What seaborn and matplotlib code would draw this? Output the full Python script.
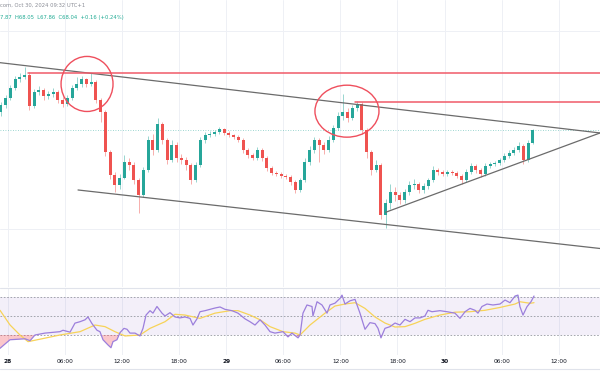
import numpy as np
import pandas as pd
import matplotlib
matplotlib.use("Agg")
import matplotlib.pyplot as plt
from matplotlib.patches import Ellipse
from matplotlib.lines import Line2D
import seaborn as sns

# ---------------- data ----------------
# 30-minute bars, x in trading hours from Oct 28 00:00 (session break removed)
first_bar_start = -1.0
bar_len = 0.5
first_open = 68.18
close = [68.25, 68.32, 68.42, 68.51, 68.54, 68.56, 68.24, 68.38, 68.40, 68.34,
         68.36, 68.38, 68.30, 68.26, 68.32, 68.42, 68.46, 68.51, 68.46, 68.48,
         68.30, 68.18, 67.78, 67.55, 67.44, 67.52, 67.68, 67.65, 67.49, 67.34,
         67.60, 67.90, 67.80, 68.06, 67.90, 67.70, 67.85, 67.72, 67.70, 67.65,
         67.49, 67.65, 67.90, 67.95, 67.96, 67.98, 68.01, 67.97, 67.95, 67.93,
         67.90, 67.80, 67.75, 67.72, 67.80, 67.72, 67.62, 67.57, 67.56, 67.54,
         67.53, 67.47, 67.39, 67.49, 67.68, 67.80, 67.90, 67.85, 67.80, 67.90,
         68.02, 68.14, 68.18, 68.12, 68.22, 68.26, 68.00, 67.78, 67.60, 67.65,
         67.14, 67.26, 67.37, 67.34, 67.29, 67.37, 67.44, 67.45, 67.39, 67.43,
         67.49, 67.60, 67.58, 67.56, 67.58, 67.57, 67.54, 67.49, 67.58, 67.64,
         67.60, 67.56, 67.64, 67.66, 67.67, 67.70, 67.74, 67.77, 67.80, 67.84,
         67.70, 67.87, 68.00]
high = [68.28, 68.35, 68.45, 68.55, 68.58, 68.64, 68.59, 68.41, 68.44, 68.42,
        68.39, 68.42, 68.40, 68.33, 68.35, 68.45, 68.54, 68.55, 68.53, 68.58,
        68.50, 68.32, 68.20, 67.80, 67.58, 67.56, 67.75, 67.72, 67.68, 67.52,
        67.63, 67.94, 67.96, 68.12, 68.08, 67.92, 67.90, 67.88, 67.76, 67.73,
        67.67, 67.68, 67.93, 67.98, 67.99, 68.00, 68.03, 68.02, 67.99, 67.96,
        67.95, 67.92, 67.82, 67.77, 67.83, 67.82, 67.74, 67.64, 67.59, 67.58,
        67.56, 67.55, 67.49, 67.52, 67.72, 67.84, 67.93, 67.92, 67.88, 67.94,
        68.05, 68.18, 68.36, 68.22, 68.25, 68.29, 68.28, 68.02, 67.80, 67.70,
        67.67, 67.30, 67.45, 67.42, 67.37, 67.40, 67.48, 67.50, 67.47, 67.46,
        67.52, 67.64, 67.62, 67.60, 67.60, 67.60, 67.59, 67.56, 67.61, 67.67,
        67.66, 67.62, 67.67, 67.68, 67.69, 67.72, 67.77, 67.80, 67.83, 67.88,
        67.86, 67.90, 68.01]
low = [68.14, 68.22, 68.30, 68.40, 68.48, 68.52, 68.20, 68.22, 68.35, 68.30,
       68.31, 68.33, 68.27, 68.23, 68.24, 68.30, 68.40, 68.43, 68.43, 68.44,
       68.27, 68.08, 67.74, 67.50, 67.37, 67.40, 67.50, 67.60, 67.45, 67.16,
       67.32, 67.58, 67.75, 67.78, 67.86, 67.66, 67.68, 67.68, 67.66, 67.60,
       67.45, 67.47, 67.63, 67.87, 67.93, 67.94, 67.96, 67.95, 67.93, 67.91,
       67.88, 67.77, 67.72, 67.70, 67.70, 67.69, 67.59, 67.55, 67.54, 67.52,
       67.50, 67.44, 67.36, 67.37, 67.47, 67.65, 67.77, 67.68, 67.76, 67.78,
       67.88, 68.00, 68.10, 68.08, 68.10, 68.19, 67.96, 67.72, 67.55, 67.58,
       67.10, 67.01, 67.20, 67.28, 67.25, 67.26, 67.34, 67.40, 67.36, 67.36,
       67.40, 67.47, 67.55, 67.54, 67.54, 67.55, 67.52, 67.45, 67.47, 67.56,
       67.57, 67.53, 67.54, 67.62, 67.64, 67.65, 67.68, 67.72, 67.75, 67.78,
       67.66, 67.68, 67.86]

rsi_hours = [-0.84, 0.21, 1.79, 2.32, 2.84, 3.89, 4.42, 5.47, 5.79, 6.53,
             7.05, 7.58, 8.11, 8.42, 8.84, 9.37, 9.68, 10.0, 10.53, 10.84,
             11.05, 11.47, 11.79, 12.21, 12.53, 12.84, 13.37, 13.89, 14.21, 14.53,
             14.95, 15.26, 15.68, 16.21, 16.53, 17.05, 17.58, 18.1, 18.63, 19.16,
             19.47, 19.89, 20.21, 20.74, 21.79, 22.32, 22.84, 23.58, 24.21, 24.95,
             25.47, 26.0, 26.53, 27.05, 27.58, 28.1, 28.95, 29.47, 29.89, 30.53,
             30.74, 31.05, 31.47, 32.0, 32.1, 32.53, 33.05, 33.58, 33.89, 34.42,
             34.95, 35.16, 35.47, 36.0, 36.53, 36.74, 37.05, 37.37, 37.58, 38.1,
             38.63, 38.95, 39.26, 39.68, 40.21, 40.74, 41.26, 41.79, 42.32, 42.84,
             43.37, 43.89, 44.21, 44.63, 45.47, 46.21, 47.05, 47.58, 48.11, 48.63,
             49.16, 49.47, 49.89, 50.42, 51.05, 51.79, 52.32, 52.84, 53.37, 53.68,
             53.89, 54.21, 54.63, 55.05, 55.37]
rsi_values = [16, 25, 26, 24, 30, 32, 32.5, 33.5, 35, 33,
              42.5, 44, 46, 49, 42, 35, 33.5, 25, 19.5, 16.6,
              23, 25, 32.5, 37, 36, 32, 32, 29, 37, 51,
              55.6, 53, 60, 53, 50, 53.5, 49, 48, 49, 47.5,
              40.5, 47, 54.5, 55.6, 58.4, 59.5, 57, 55.6, 53, 47,
              44, 40.5, 46, 40.5, 33.5, 32, 33.5, 28, 32, 27,
              30, 53, 61.6, 60, 50, 65, 61.6, 53, 61.6, 63.5,
              68.6, 72, 62.6, 66, 67.5, 61.6, 53, 42.6, 36, 43,
              42, 37, 27, 37, 38.8, 42.6, 40.5, 46.5, 44, 48,
              48, 50, 56, 54.5, 55.6, 54.5, 53, 47.5, 54.5, 58,
              56, 53, 60, 62.6, 61.6, 62.6, 66.8, 64, 71, 72,
              59.8, 51, 59.8, 65, 71]
ma_hours = [-0.84, 0.21, 1.26, 2.11, 3.37, 5.47, 7.58, 9.16, 10.21, 11.26,
            12.32, 13.89, 14.95, 16.53, 17.58, 18.63, 20.21, 21.79, 23.37, 24.21,
            25.47, 26.53, 27.58, 28.95, 30.21, 30.74, 31.79, 33.37, 34.42, 35.47,
            36.53, 37.58, 38.63, 39.68, 40.74, 41.79, 42.84, 43.89, 45.47, 47.05,
            48.63, 50.21, 51.79, 53.37, 53.89, 54.95, 55.37]
ma_values = [56, 40.6, 30, 23, 25.6, 30, 33.5, 40.5, 38.8, 33.5,
             29, 30, 37, 44, 51.8, 51, 47.5, 53, 55.6, 55.6,
             51, 46, 38.8, 33.5, 32, 30, 40.5, 53, 60.5, 62.6,
             64, 58, 49, 42.6, 38.4, 38.8, 42.3, 46.5, 51, 54,
             54.5, 56, 59, 62.6, 65, 63.4, 64]

tick_hours = [0, 6, 12, 18, 23, 29, 35, 41, 46, 52, 58]
tick_labels = ['28', '06:00', '12:00', '18:00', '29', '06:00', '12:00', '18:00', '30', '06:00', '12:00']
day_labels = ['28', '29', '30']

# drawings (time in trading hours, price)
upper_line_t, upper_line_p = [-0.84, 62.32], [68.68, 67.97]
lower_line_t, lower_line_p = [7.37, 62.32], [67.394, 66.803]
rising_line_t, rising_line_p = [39.76, 62.32], [67.169, 67.97]
res1_t, res1_p = [2.1, 62.32], [68.58, 68.58]
res2_t, res2_p = [36.5, 62.32], [68.28, 68.28]
circle1 = (8.32, 68.465, 5.47, 0.556)
circle2 = (35.68, 68.19, 6.74, 0.525)

header1 = "com, Oct 30, 2024 09:32 UTC+1"
header2 = "7.87  H68.05  L67.86  C68.04  +0.16 (+0.24%)"

# ---------------- figure ----------------
sns.set_theme(style="white")
plt.rcParams['font.family'] = ['DejaVu Sans']

W, H = 600, 385
fig = plt.figure(figsize=(6.0, 3.85), dpi=100)
fig.patch.set_facecolor('white')

XLIM = (-0.842, 62.316)
ax = fig.add_axes([0, 1 - 287 / H, 1, 287 / H])
ax2 = fig.add_axes([0, 1 - 355 / H, 1, 67 / H])
for a in (ax, ax2):
    a.set_xlim(*XLIM)
    for s in a.spines.values():
        s.set_visible(False)
    a.set_facecolor('white')
ax.set_ylim(66.414, 69.313)
ax2.set_ylim(8.95, 79.47)

GREEN = '#26a69a'
RED = '#ef5350'
grid_c = '#eef0f5'

# grid
for a in (ax, ax2):
    for th in tick_hours:
        a.axvline(th, color=grid_c, lw=0.7, zorder=0)
for gp in (67, 69):
    ax.axhline(gp, color=grid_c, lw=0.7, zorder=0)

# candles
close_a = np.array(close)
open_a = np.concatenate([[first_open], close_a[:-1]])
high_a = np.array(high)
low_a = np.array(low)
t_mid = first_bar_start + bar_len * np.arange(len(close_a)) + bar_len / 2
cols = np.where(close_a >= open_a, GREEN, RED)
ax.vlines(t_mid, low_a, high_a, colors=cols, lw=0.6, alpha=0.55, zorder=2)
body_lo = np.minimum(open_a, close_a)
body_h = np.maximum(np.abs(close_a - open_a), 0.008)
ax.bar(t_mid, body_h, bottom=body_lo, width=0.3, color=cols, linewidth=0, zorder=3)

# last price line (dotted)
ax.axhline(close_a[-1], color=GREEN, lw=0.6, ls=(0, (1, 2)), alpha=0.6, zorder=1)

# trend lines
line_c = '#6b6b6b'
for tt, pp in ((upper_line_t, upper_line_p), (lower_line_t, lower_line_p), (rising_line_t, rising_line_p)):
    sns.lineplot(x=tt, y=pp, ax=ax, color=line_c, lw=0.9, zorder=4)
for tt, pp in ((res1_t, res1_p), (res2_t, res2_p)):
    sns.lineplot(x=tt, y=pp, ax=ax, color='#f05a68', lw=1.1, zorder=4)
for cx, cy, w, h in (circle1, circle2):
    ax.add_patch(Ellipse((cx, cy), w, h, fill=False, edgecolor='#ef4f5d', lw=1.0, zorder=5))

ax.set_xticks([])
ax.set_yticks([])
ax.set_xlabel('')
ax.set_ylabel('')

# RSI panel
ax2.axhspan(30, 70, color='#7e57c2', alpha=0.09, lw=0, zorder=0)
for lv in (30, 50, 70):
    ax2.axhline(lv, color='#9598a1', lw=0.6, ls=(0, (2, 2)), zorder=1)

rsi_df = pd.DataFrame({'t': rsi_hours, 'rsi': rsi_values})
ma_df = pd.DataFrame({'t': ma_hours, 'ma': ma_values})
fine_t = np.linspace(rsi_hours[0], rsi_hours[-1], 2000)
fine_r = np.interp(fine_t, rsi_hours, rsi_values)
ax2.fill_between(fine_t, fine_r, 30, where=fine_r < 30, color='#f23645', alpha=0.28, lw=0, zorder=1)
ax2.fill_between(fine_t, fine_r, 70, where=fine_r > 70, color='#089981', alpha=0.28, lw=0, zorder=1)
sns.lineplot(data=ma_df, x='t', y='ma', ax=ax2, color='#f7d358', lw=0.9, zorder=2)
sns.lineplot(data=rsi_df, x='t', y='rsi', ax=ax2, color='#9c7fdc', lw=0.9, zorder=3)

ax2.set_yticks([])
ax2.set_xticks(tick_hours)
ax2.set_xticklabels(tick_labels)
ax2.tick_params(axis='x', length=0, pad=3.2, labelsize=4.2, colors='#131722')
for lab in ax2.get_xticklabels():
    if lab.get_text() in day_labels:
        lab.set_fontweight('bold')
ax2.set_xlabel('')
ax2.set_ylabel('')
ax2.set_xlim(*XLIM)
ax.set_xlim(*XLIM)

# separators
sep_c = '#e0e3eb'
for yy in (287.5, 369):
    fig.add_artist(Line2D([0, 1], [1 - yy / H, 1 - yy / H], transform=fig.transFigure, color=sep_c, lw=0.8))

# header
fig.text(0.5 / W, 1 - 5.5 / H, header1, fontsize=3.8, color='#8a8d96', va='center', ha='left')
fig.text(0.5 / W, 1 - 17 / H, header2, fontsize=3.8, color='#22ab94', va='center', ha='left')

fig.savefig('out.png', dpi=100, facecolor='white')
